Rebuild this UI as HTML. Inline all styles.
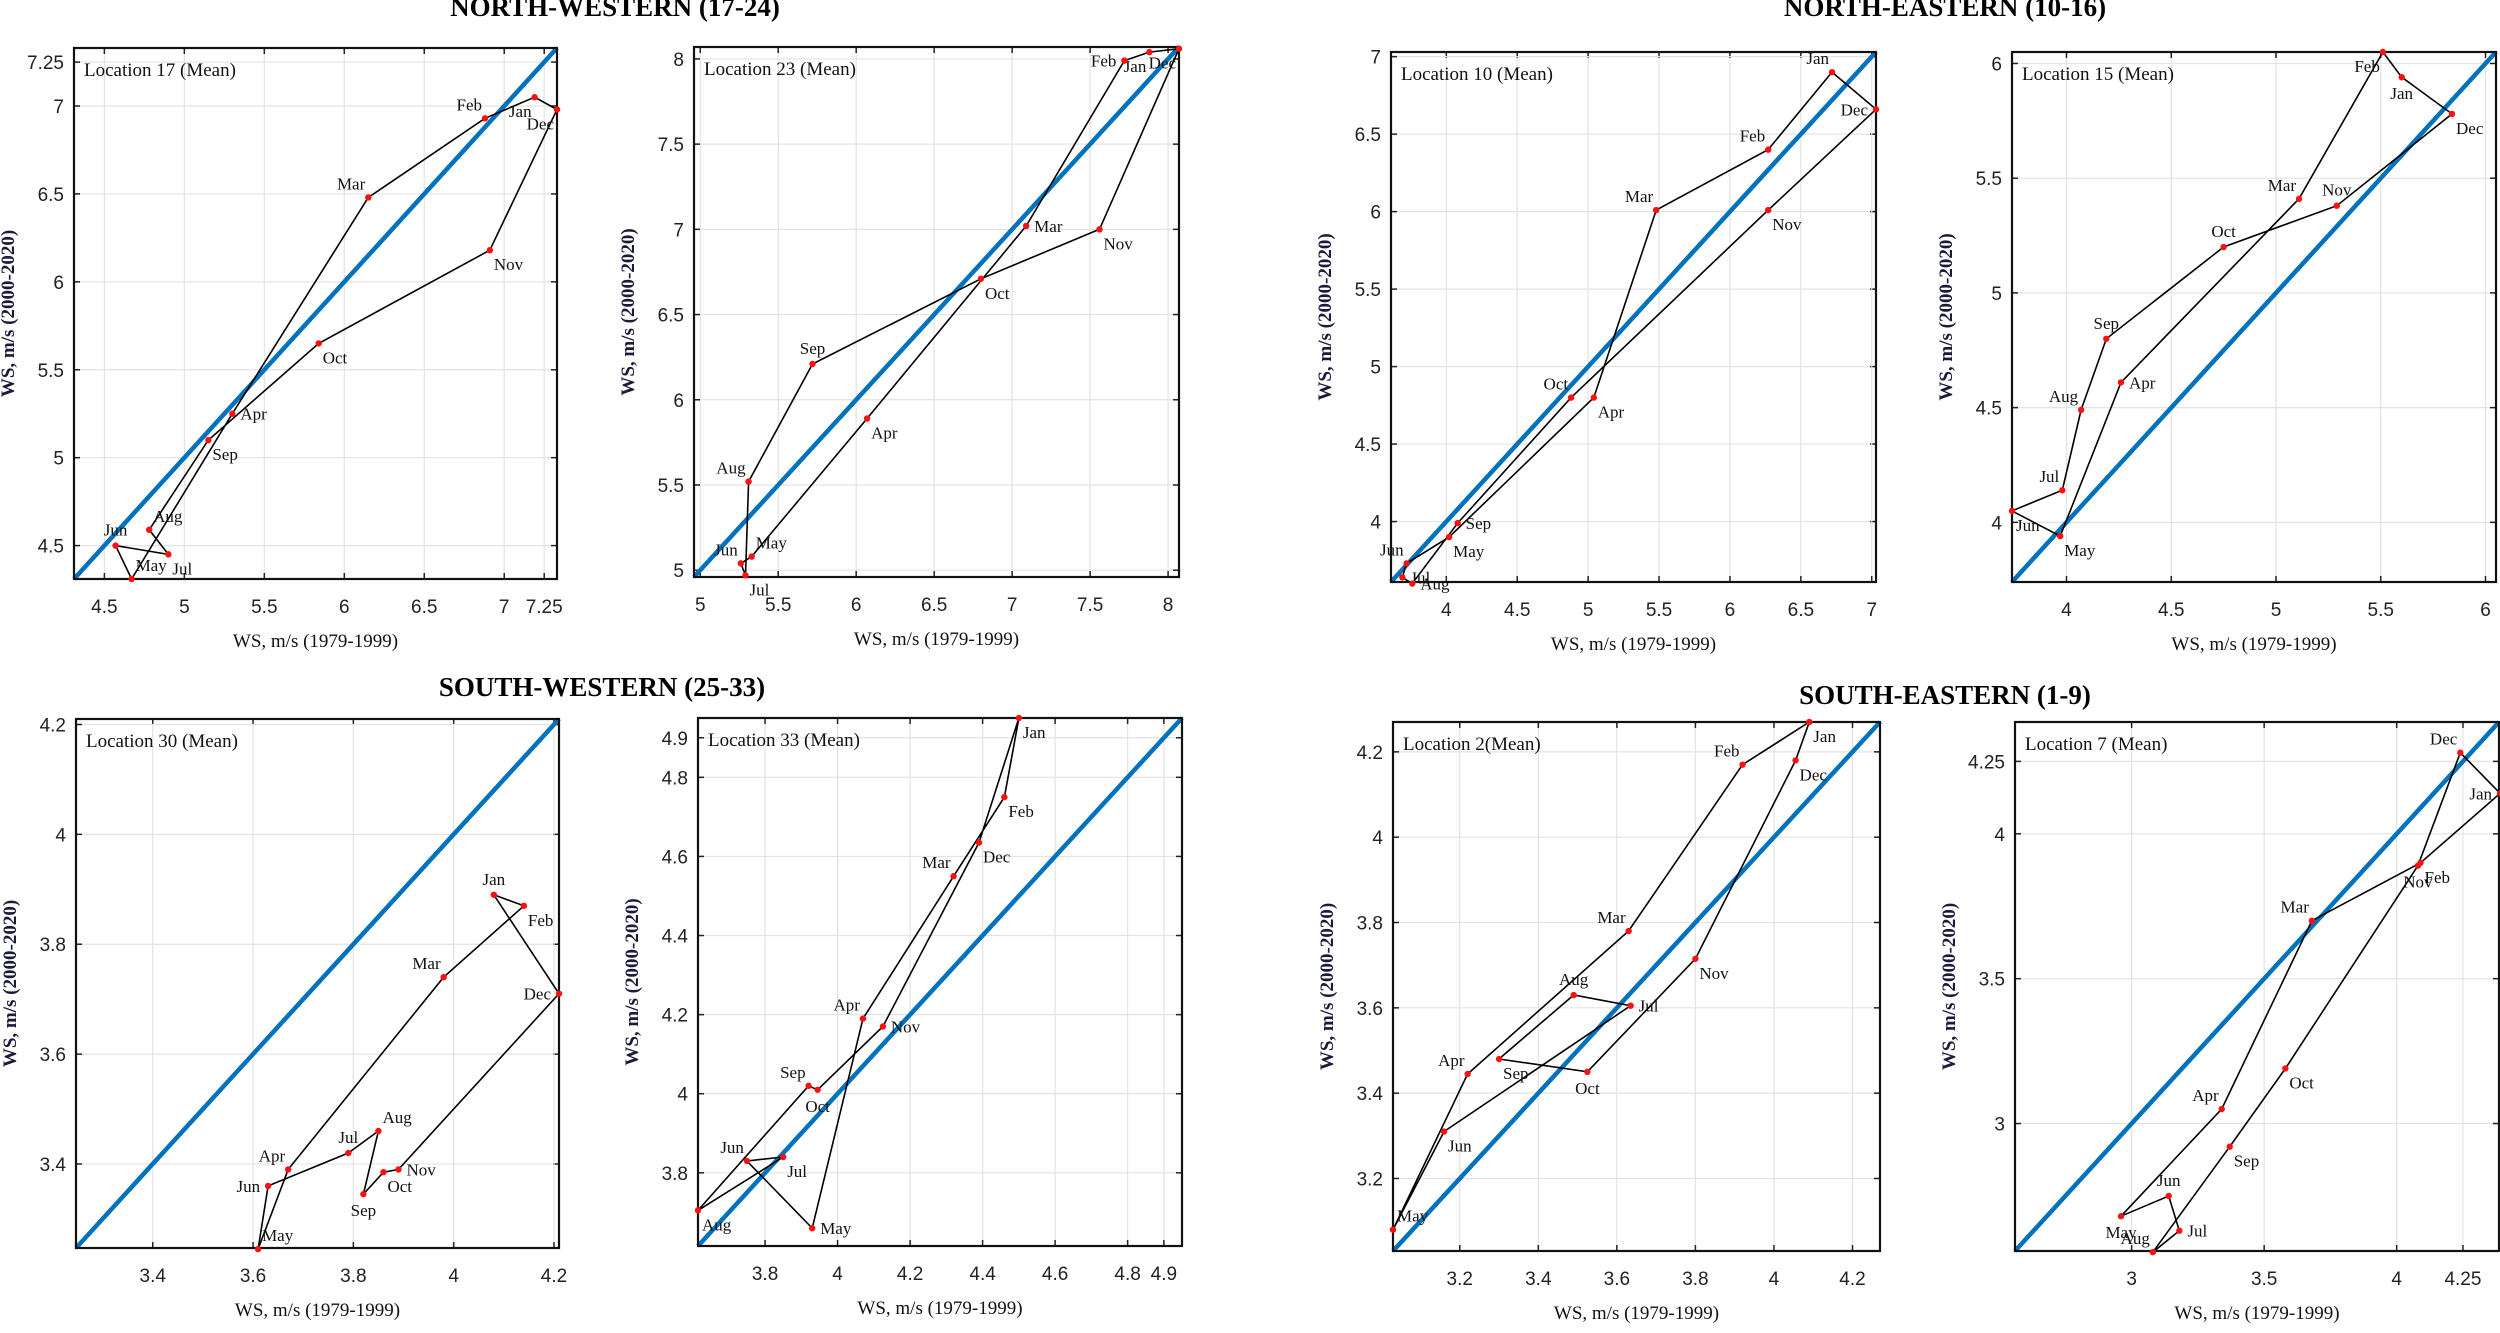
<!DOCTYPE html>
<html><head><meta charset="utf-8">
<style>
html,body{margin:0;padding:0;background:#fff;}
svg{display:block;}
.tick{font-family:"Liberation Sans",sans-serif;font-size:19px;fill:#222;}
.ttl{font-family:"Liberation Serif",serif;font-weight:bold;font-size:27px;fill:#000;}
.xl{font-family:"Liberation Serif",serif;font-size:19px;fill:#111;}
.yl{font-family:"Liberation Serif",serif;font-weight:bold;font-size:19px;fill:#1a1a3a;}
.loc{font-family:"Liberation Serif",serif;font-size:19px;fill:#111;}
.mon{font-family:"Liberation Serif",serif;font-size:17px;fill:#111;}
</style></head>
<body>
<svg id="fig" width="2500" height="1333" viewBox="0 0 2500 1333" xmlns="http://www.w3.org/2000/svg">
<text class="ttl" x="615" y="16" text-anchor="middle">NORTH-WESTERN (17-24)</text>
<text class="ttl" x="1945" y="16" text-anchor="middle">NORTH-EASTERN (10-16)</text>
<text class="ttl" x="602" y="696" text-anchor="middle">SOUTH-WESTERN (25-33)</text>
<text class="ttl" x="1945" y="704" text-anchor="middle">SOUTH-EASTERN (1-9)</text>
</svg>
<script>
const months = ["Jan","Feb","Mar","Apr","May","Jun","Jul","Aug","Sep","Oct","Nov","Dec"];

const x17 = [7.19,6.88,6.15,5.30,4.67,4.57,4.90,4.78,5.15,5.84,6.91,7.33];
const y17 = [7.05,6.93,6.48,5.25,4.31,4.50,4.45,4.59,5.10,5.65,6.18,6.98];
const ticks17 = [4.5,5,5.5,6,6.5,7,7.25];

const x23 = [7.88,7.72,7.09,6.07,5.33,5.26,5.29,5.31,5.72,6.80,7.56,8.07];
const y23 = [8.04,7.99,7.02,5.89,5.08,5.04,4.97,5.52,6.21,6.71,7.00,8.06];
const ticks23 = [5,5.5,6,6.5,7,7.5,8];

const x10 = [6.72,6.27,5.48,5.04,4.02,3.72,3.69,3.76,4.08,4.88,6.27,7.03];
const y10 = [6.90,6.40,6.01,4.80,3.90,3.73,3.64,3.60,3.99,4.80,6.01,6.66];
const ticks10 = [4,4.5,5,5.5,6,6.5,7];

const x15 = [5.60,5.51,5.11,4.26,3.97,3.74,3.98,4.07,4.19,4.75,5.29,5.84];
const y15 = [5.94,6.05,5.41,4.61,3.94,4.05,4.14,4.49,4.80,5.20,5.38,5.78];
const ticks15 = [4,4.5,5,5.5,6];

const x30 = [4.08,4.14,3.98,3.67,3.61,3.63,3.79,3.85,3.82,3.86,3.89,4.21];
const y30 = [3.89,3.87,3.74,3.39,3.245,3.36,3.42,3.46,3.345,3.385,3.39,3.71];
const ticks30 = [3.4,3.6,3.8,4,4.2];

const x33 = [4.50,4.46,4.32,4.07,3.93,3.75,3.85,3.615,3.92,3.945,4.125,4.39];
const y33 = [4.95,4.75,4.55,4.19,3.66,3.83,3.84,3.705,4.02,4.01,4.17,4.635];
const ticks33 = [3.8,4,4.2,4.4,4.6,4.8,4.9];

const x2 = [4.09,3.92,3.63,3.22,3.03,3.16,3.635,3.49,3.30,3.525,3.80,4.055];
const y2 = [4.27,4.17,3.78,3.445,3.08,3.31,3.605,3.63,3.48,3.45,3.715,4.18];
const ticks2 = [3.2,3.4,3.6,3.8,4,4.2];

const x7 = [4.39,4.09,3.68,3.34,2.96,3.14,3.18,3.08,3.37,3.58,4.08,4.24];
const y7 = [4.14,3.90,3.70,3.05,2.68,2.75,2.63,2.556,2.92,3.19,3.89,4.28];
const ticks7 = [3,3.5,4,4.25];

// layout (not data)
const panels = [
 {id:"17",loc:"Location 17 (Mean)",xs:x17,ys:y17,tk:ticks17,lim:[4.31,7.33],box:[74,48,557,579],
  lab:["ll","ul","ul","r","ur","a","lr","ur","lr","lr","lr","ll"]},
 {id:"23",loc:"Location 23 (Mean)",xs:x23,ys:y23,tk:ticks23,lim:[4.96,8.07],box:[694,47,1179,577],
  lab:["ll","l","r","lr","ur","ul","lr","ul","a","lr","lr","ll"]},
 {id:"10",loc:"Location 10 (Mean)",xs:x10,ys:y10,tk:ticks10,lim:[3.61,7.03],box:[1391,52,1876,582],
  lab:["ul","ul","ul","lr","lr","ul","r","r","r","ul","lr","l"]},
 {id:"15",loc:"Location 15 (Mean)",xs:x15,ys:y15,tk:ticks15,lim:[3.74,6.05],box:[2012,52,2496,582],
  lab:["b","ll","ul","r","lr","lr","ul","ul","a","a","a","lr"]},
 {id:"30",loc:"Location 30 (Mean)",xs:x30,ys:y30,tk:ticks30,lim:[3.247,4.21],box:[76,719,559,1248],
  lab:["a","lr","ul","ul","ur","l","a","ur","b","lr","r","l"]},
 {id:"33",loc:"Location 33 (Mean)",xs:x33,ys:y33,tk:ticks33,lim:[3.615,4.95],box:[698,718,1182,1246],
  lab:["lr","lr","ul","ul","r","ul","lr","lr","ul","b","r","lr"]},
 {id:"2",loc:"Location 2(Mean)",xs:x2,ys:y2,tk:ticks2,lim:[3.03,4.27],box:[1393,722,1880,1251],
  lab:["lr","ul","ul","ul","ur","lr","r","a","lr","b","lr","lr"]},
 {id:"7",loc:"Location 7 (Mean)",xs:x7,ys:y7,tk:ticks7,lim:[2.56,4.386],box:[2015,722,2499,1251],
  lab:["l","lr","ul","ul","b","a","r","ul","lr","lr","b","ul"]}
];
const NS="http://www.w3.org/2000/svg";
const svg=document.getElementById("fig");
function mk(tag,attrs,parent){const e=document.createElementNS(NS,tag);for(const k in attrs)e.setAttribute(k,attrs[k]);(parent||svg).appendChild(e);return e;}
const off={r:[8,6,"start"],l:[-8,6,"end"],a:[0,-10,"middle"],b:[0,22,"middle"],ul:[-3,-8,"end"],ur:[4,-8,"start"],ll:[-3,20,"end"],lr:[4,20,"start"]};

panels.forEach(p=>{
  const [x0,y0,x1,y1]=p.box;const [lo,hi]=p.lim;
  const sx=v=>x0+(v-lo)/(hi-lo)*(x1-x0);
  const sy=v=>y1-(v-lo)/(hi-lo)*(y1-y0);
  const g=mk("g",{});
  
  
  mk("rect",{x:x0,y:y0,width:x1-x0,height:y1-y0,fill:"#fff"},g);
  p.tk.forEach(t=>{
    const gx=mk("line",{x1:sx(t),x2:sx(t),y1:y0,y2:y1,stroke:"#e3e3e3","stroke-width":1.2},g);
    
    
    const gy=mk("line",{x1:x0,x2:x1,y1:sy(t),y2:sy(t),stroke:"#e3e3e3","stroke-width":1.2},g);
    
    
    mk("line",{x1:sx(t),x2:sx(t),y1:y1,y2:y1-6,stroke:"#222","stroke-width":1.5},g);
    mk("line",{x1:sx(t),x2:sx(t),y1:y0,y2:y0+6,stroke:"#222","stroke-width":1.5},g);
    mk("line",{x1:x0,x2:x0+6,y1:sy(t),y2:sy(t),stroke:"#222","stroke-width":1.5},g);
    mk("line",{x1:x1,x2:x1-6,y1:sy(t),y2:sy(t),stroke:"#222","stroke-width":1.5},g);
    const xt=mk("text",{class:"tick",x:sx(t),y:y1+34,"text-anchor":"middle"},g);xt.textContent=String(t);
    
    
    const yt=mk("text",{class:"tick",x:x0-10,y:sy(t)+7,"text-anchor":"end"},g);yt.textContent=String(t);
    
    
  });
  const cid="clip"+p.id;
  const cp=mk("clipPath",{id:cid},g);mk("rect",{x:x0-4,y:y0-4,width:x1-x0+8,height:y1-y0+8},cp);
  const diag=mk("line",{x1:sx(lo),y1:sy(lo),x2:sx(hi),y2:sy(hi),stroke:"#0072BD","stroke-width":4.5},g);
  
  
  let d="";
  p.xs.forEach((v,i)=>{d+=(i?"L":"M")+sx(v).toFixed(1)+","+sy(p.ys[i]).toFixed(1);});
  d+="Z";
  const path=mk("path",{d:d,fill:"none",stroke:"#000","stroke-width":1.6},g);
  
  
  mk("rect",{x:x0,y:y0,width:x1-x0,height:y1-y0,fill:"none",stroke:"#111","stroke-width":2.2},g);
  p.xs.forEach((v,i)=>{
    const cx=sx(v),cy=sy(p.ys[i]);
    const pt=mk("circle",{cx:cx,cy:cy,r:3.2,fill:"#ff1010"},g);
    
    
    const o=off[p.lab[i]];
    const lt=mk("text",{class:"mon",x:cx+o[0],y:cy+o[1],"text-anchor":o[2]},g);lt.textContent=months[i];
    
    
  });
  const lc=mk("text",{class:"loc",x:x0+10,y:y0+28},g);lc.textContent=p.loc;
  
  
  const xl=mk("text",{class:"xl",x:(x0+x1)/2,y:y1+68,"text-anchor":"middle"},g);xl.textContent="WS, m/s (1979-1999)";
  
  
  const yx=x0-60,yy=(y0+y1)/2;
  const yl=mk("text",{class:"yl",x:yx,y:yy,"text-anchor":"middle",transform:`rotate(-90 ${yx} ${yy})`},g);yl.textContent="WS, m/s (2000-2020)";
  
  
});
</script>
</body></html>
